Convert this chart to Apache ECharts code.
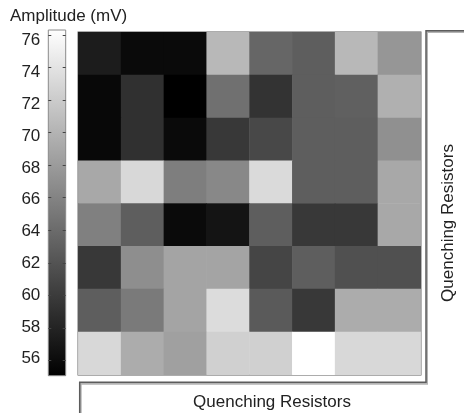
<!DOCTYPE html>
<html>
<head>
<meta charset="utf-8">
<script src="https://cdn.jsdelivr.net/npm/echarts@6/dist/echarts.min.js"></script>
<style>
  html, body { margin: 0; padding: 0; background: #fff; }
  #chart { width: 464px; height: 413px; }
</style>
</head>
<body>
<div id="chart"></div>
<script>
// Resistor grid: 8 columns x 8 rows, amplitude in mV (top row first)
const columns = ['1', '2', '3', '4', '5', '6', '7', '8'];
const rows = ['1', '2', '3', '4', '5', '6', '7', '8'];
const row1 = [57.4, 55.9, 55.9, 70.4, 63.6, 62.9, 70.4, 67.6];
const row2 = [55.7, 59.1, 55.1, 64.4, 59.3, 62.9, 63.1, 69.7];
const row3 = [55.7, 59.1, 55.9, 59.7, 61.1, 62.9, 62.9, 67.1];
const row4 = [69.1, 73.1, 65.6, 66.4, 73.2, 62.9, 62.9, 69.1];
const row5 = [65.7, 62.9, 55.9, 56.7, 62.9, 59.7, 59.7, 69.1];
const row6 = [59.7, 66.9, 68.7, 68.7, 60.8, 62.9, 61.7, 61.7];
const row7 = [62.9, 65.2, 68.7, 73.4, 62.6, 59.7, 69.4, 69.4];
const row8 = [73.1, 69.4, 68.4, 72.4, 72.4, 76.3, 73.1, 73.1];
const amplitudeRows = [row1, row2, row3, row4, row5, row6, row7, row8];

// Colour scale limits and colour-bar tick labels
const scaleMin = 55.06;
const scaleMax = 76.31;
const barTicks = [56, 58, 60, 62, 64, 66, 68, 70, 72, 74, 76];

const cells = [];
amplitudeRows.forEach((vals, r) => {
  vals.forEach((v, c) => cells.push([c, r, v]));
});

const FONT = "'Liberation Sans', Arial, sans-serif";
const TXT = '#222';

const chart = echarts.init(document.getElementById('chart'), null, { renderer: 'canvas' });

chart.setOption({
  backgroundColor: '#fff',
  animation: false,
  title: {
    text: 'Amplitude (mV)',
    left: 5, top: 3,
    textStyle: { fontFamily: FONT, fontSize: 17, fontWeight: 'normal', color: TXT }
  },
  grid: [
    { // heat map
      left: 78.3, top: 32.3, width: 342.4, height: 342.4,
      show: true, borderColor: '#5a5a5a', borderWidth: 1.5, backgroundColor: 'transparent'
    },
    { // colour bar
      left: 48.3, top: 30, width: 17.4, height: 345.7,
      show: true, borderColor: '#8a8a8a', borderWidth: 1,
      backgroundColor: new echarts.graphic.LinearGradient(0, 0, 0, 1, [
        { offset: 0, color: '#ffffff' },
        { offset: 1, color: '#000000' }
      ])
    }
  ],
  xAxis: [
    { type: 'category', data: columns, gridIndex: 0, show: false },
    { type: 'value', gridIndex: 1, show: false }
  ],
  yAxis: [
    { type: 'category', data: rows, gridIndex: 0, inverse: true, show: false },
    { // colour-bar labels
      type: 'value', gridIndex: 1, position: 'left', min: 54.93, max: 76.67,
      axisLine: { show: false }, axisTick: { show: false }, splitLine: { show: false },
      axisLabel: {
        customValues: barTicks, margin: 8,
        fontFamily: FONT, fontSize: 17, color: TXT
      }
    },
    { // colour-bar ticks, left side
      type: 'value', gridIndex: 1, position: 'left', min: scaleMin, max: scaleMax,
      axisLine: { show: false }, splitLine: { show: false },
      axisLabel: { show: false },
      axisTick: { show: true, inside: true, length: 3, customValues: barTicks,
        lineStyle: { color: '#444', width: 1 } }
    },
    { // colour-bar ticks, right side
      type: 'value', gridIndex: 1, position: 'right', min: scaleMin, max: scaleMax,
      axisLine: { show: false }, splitLine: { show: false },
      axisLabel: { show: false },
      axisTick: { show: true, inside: true, length: 3, customValues: barTicks,
        lineStyle: { color: '#444', width: 1 } }
    }
  ],
  visualMap: {
    type: 'continuous', show: false, seriesIndex: 0,
    min: scaleMin, max: scaleMax,
    inRange: { color: ['#000000', '#ffffff'] }
  },
  series: [
    {
      type: 'heatmap', xAxisIndex: 0, yAxisIndex: 0,
      data: cells,
      itemStyle: { borderWidth: 0 },
      emphasis: { disabled: true }
    }
  ],
  graphic: [
    { // panel outline shadow
      type: 'polyline', silent: true, z: 10,
      shape: { points: [[80.7, 420], [80.7, 383.7], [427, 383.7], [427, 32], [470, 32]] },
      style: { stroke: '#b4b4b4', lineWidth: 2, fill: null }
    },
    { // panel outline
      type: 'polyline', silent: true, z: 11,
      shape: { points: [[79.7, 420], [79.7, 382.2], [426, 382.2], [426, 30.8], [470, 30.8]] },
      style: { stroke: '#5c5c5c', lineWidth: 1.5, fill: null }
    },
    {
      type: 'text', x: 272, y: 402, silent: true,
      style: { text: 'Quenching Resistors', font: '17px ' + FONT, fill: TXT,
        align: 'center', verticalAlign: 'middle' }
    },
    {
      type: 'text', x: 448, y: 223, rotation: Math.PI / 2, silent: true,
      style: { text: 'Quenching Resistors', font: '17px ' + FONT, fill: TXT,
        align: 'center', verticalAlign: 'middle' }
    }
  ]
});
</script>
</body>
</html>
